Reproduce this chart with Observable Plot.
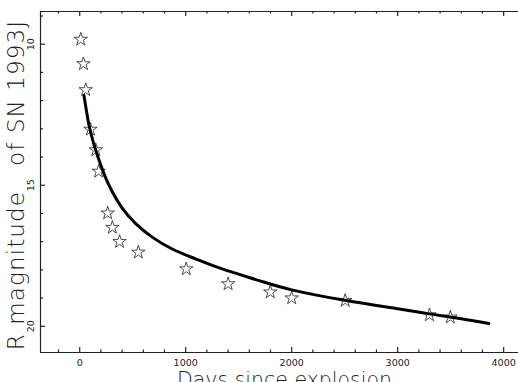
<!DOCTYPE html>
<html>
<head>
<meta charset="utf-8">
<script src="https://cdn.jsdelivr.net/npm/d3@7"></script>
<script src="https://cdn.jsdelivr.net/npm/@observablehq/plot@0.6"></script>
<style>
  html, body { margin: 0; padding: 0; background: #fff; }
  svg { display: block; }
</style>
</head>
<body>
<div id="chart"></div>
<script>
// Observed R magnitudes of SN 1993J (stars)
const obsDays = [10, 35, 57, 101, 152, 179, 264, 308, 376, 553, 1005, 1400, 1798, 2000, 2505, 3300, 3497];
const obsMags = [9.83, 10.7, 11.62, 13.02, 13.75, 14.51, 15.99, 16.5, 17.0, 17.38, 17.97, 18.5, 18.79, 19.0, 19.09, 19.6, 19.68];

// Model curve (thick line)
const fitDays = [40, 85, 130, 180, 243, 307, 401, 526, 684, 873, 1092, 1330, 1700, 2000, 2500, 3000, 3300, 3600, 3860];
const fitMags = [11.82, 12.82, 13.5, 14.09, 14.72, 15.23, 15.81, 16.35, 16.84, 17.26, 17.61, 17.95, 18.39, 18.71, 19.08, 19.38, 19.56, 19.73, 19.9];

// Axes
const xDomain = [-370, 4140];
const yDomain = [8.84, 20.93];
const xMajor = [0, 1000, 2000, 3000, 4000];
const xMinor = [-200, 200, 400, 600, 800, 1200, 1400, 1600, 1800, 2200, 2400, 2600, 2800, 3200, 3400, 3600, 3800];
const yMajor = [10, 15, 20];
const yMinor = [9, 11, 12, 13, 14, 16, 17, 18, 19];
const xTitle = "Days since explosion";
const yTitle = "R magnitude\u00a0\u00a0\u00a0of SN 1993J";

const obs = obsDays.map((d, i) => ({day: d, mag: obsMags[i]}));
const fit = fitDays.map((d, i) => ({day: d, mag: fitMags[i]}));

const W = 518, H = 382, mL = 40, mT = 11, mB = 30, mR = 0;
const fw = W - mL - mR, fh = H - mT - mB;
const ink = "#222";

const chart = Plot.plot({
  width: W,
  height: H,
  marginLeft: mL,
  marginTop: mT,
  marginBottom: mB,
  marginRight: mR,
  style: {background: "#fff", color: ink, overflow: "visible"},
  x: {domain: xDomain, axis: null},
  y: {domain: yDomain, reverse: true, axis: null},
  marks: [
    // frame (left, top, bottom)
    Plot.ruleX([xDomain[0]], {stroke: ink, strokeWidth: 1.2}),
    Plot.ruleY([yDomain[0], yDomain[1]], {stroke: ink, strokeWidth: 1.2}),
    // bottom ticks (inward)
    Plot.tickX(xMajor, {x: d => d, insetTop: fh - 5, stroke: ink, strokeWidth: 1.2}),
    Plot.tickX(xMinor, {x: d => d, insetTop: fh - 2.5, stroke: ink, strokeWidth: 1.2}),
    // top ticks (inward)
    Plot.tickX(xMajor, {x: d => d, insetBottom: fh - 5, stroke: ink, strokeWidth: 1.2}),
    Plot.tickX(xMinor, {x: d => d, insetBottom: fh - 2.5, stroke: ink, strokeWidth: 1.2}),
    // left ticks (inward)
    Plot.tickY(yMajor, {y: d => d, insetRight: fw - 5, stroke: ink, strokeWidth: 1.2}),
    Plot.tickY(yMinor, {y: d => d, insetRight: fw - 3, stroke: ink, strokeWidth: 1.2}),
    // tick labels
    Plot.text(xMajor, {x: d => d, frameAnchor: "bottom", dy: 10.5, lineAnchor: "middle", text: d => String(d), fontSize: 9.5, fontFamily: "DejaVu Sans", fill: ink}),
    Plot.text(yMajor, {y: d => d, frameAnchor: "left", dx: -9.5, rotate: -90, textAnchor: "middle", lineAnchor: "middle", text: d => String(d), fontSize: 9.5, fontFamily: "DejaVu Sans", fill: ink}),
    // axis titles
    Plot.text([xTitle], {frameAnchor: "bottom", dx: 5, dy: 20, lineAnchor: "top", text: d => d, fontSize: 20.5, fontFamily: "DejaVu Sans", fontWeight: 300, fill: ink, className: "xtitle"}),
    Plot.text([yTitle], {frameAnchor: "left", dx: -24, dy: 3, rotate: -90, textAnchor: "middle", lineAnchor: "middle", text: d => d, fontSize: 23, fontFamily: "DejaVu Sans", fontWeight: 300, fill: ink, className: "ytitle"}),
    // observations
    Plot.dot(obs, {x: "day", y: "mag", symbol: "star", r: 4.2, stroke: ink, strokeWidth: 0.8, fill: "none"}),
    // model curve
    Plot.line(fit, {x: "day", y: "mag", stroke: "#000", strokeWidth: 3, curve: "natural"})
  ]
});

d3.select(chart).selectAll(".ytitle text").attr("letter-spacing", "1.1px");
document.getElementById("chart").appendChild(chart);
</script>
</body>
</html>
